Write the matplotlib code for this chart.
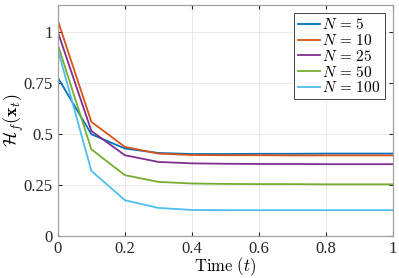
import matplotlib
matplotlib.use('Agg')
import matplotlib.pyplot as plt

t = [0, 0.1, 0.2, 0.3, 0.4, 0.5, 0.6, 0.7, 0.8, 0.9, 1.0]
h_5 = [0.778, 0.50, 0.43, 0.408, 0.403, 0.403, 0.404, 0.404, 0.405, 0.405, 0.405]
h_10 = [1.058, 0.561, 0.438, 0.405, 0.398, 0.397, 0.397, 0.396, 0.396, 0.396, 0.396]
h_25 = [1.002, 0.516, 0.397, 0.364, 0.357, 0.355, 0.354, 0.354, 0.353, 0.353, 0.353]
h_50 = [0.94, 0.426, 0.299, 0.266, 0.258, 0.256, 0.255, 0.255, 0.254, 0.254, 0.254]
h_100 = [0.915, 0.32, 0.176, 0.138, 0.128, 0.127, 0.127, 0.127, 0.127, 0.127, 0.127]
labels = [r'$N\,=\,5$', r'$N\,=\,10$', r'$N\,=\,25$', r'$N\,=\,50$', r'$N\,=\,100$']
colors = ['#0072BD', '#D95319', '#7E2F8E', '#77AC30', '#4DBEEE']

plt.rcParams['mathtext.fontset'] = 'cm'
plt.rcParams['font.family'] = 'Liberation Serif'

fig = plt.figure(figsize=(3.99, 2.78), dpi=100)
ax = fig.add_axes([0.145, 0.151, 0.84, 0.831])

for y, lab, c in zip([h_5, h_10, h_25, h_50, h_100], labels, colors):
    ax.plot(t, y, color=c, lw=1.3, label=lab)

ax.set_xlim(0, 1)
ax.set_ylim(0, 1.135)
ax.set_xticks([0, 0.2, 0.4, 0.6, 0.8, 1])
ax.set_xticklabels(['0', '0.2', '0.4', '0.6', '0.8', '1'])
ax.set_yticks([0, 0.25, 0.5, 0.75, 1])
ax.set_yticklabels(['0', '0.25', '0.5', '0.75', '1'])
ax.tick_params(direction='in', length=3, labelsize=12, color='#262626', labelcolor='#262626',
               top=True, right=True)
ax.grid(True, color='#e6e6e6', lw=0.6)
ax.set_axisbelow(True)
for s in ax.spines.values():
    s.set_color('#a0a0a0')
    s.set_linewidth(0.9)

ax.set_xlabel(r'$\mathrm{Time}\ (t)$', fontsize=12, labelpad=-1)
ax.set_ylabel(r'$\bar{\mathcal{H}}_f(\mathbf{x}_t)$', fontsize=13, labelpad=-2)

leg = ax.legend(loc='upper right', fontsize=11, fancybox=False, framealpha=1,
                edgecolor='#262626', handlelength=1.45, handletextpad=0.15,
                labelspacing=0.05, borderpad=0.25, borderaxespad=0.55)
leg.get_frame().set_linewidth(0.6)

fig.savefig('out.png', dpi=100)
